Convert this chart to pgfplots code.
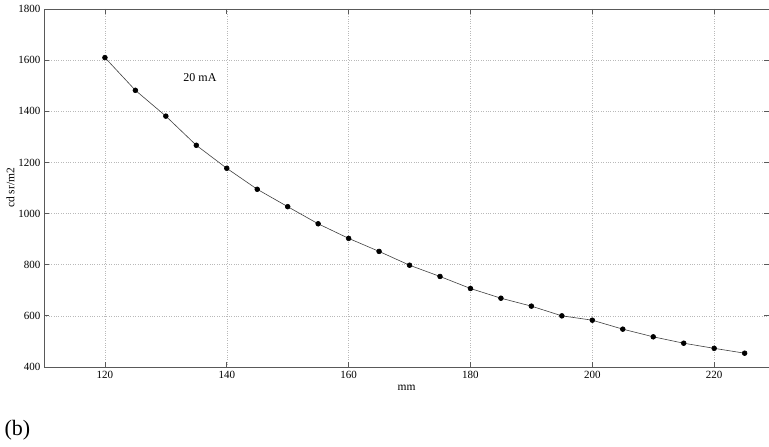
\documentclass[border=0pt]{standalone}
\usepackage{pgfplots}
\pgfplotsset{compat=1.18}
\usepackage{fontspec}
\setmainfont{Liberation Serif}
\begin{document}
\begin{tikzpicture}[x=1pt,y=1pt]
\path[use as bounding box] (0,0) rectangle (769,447);
\begin{axis}[
  at={(44pt,80pt)}, anchor=south west,
  scale only axis, width=725pt, height=358pt,
  xmin=110, xmax=229, ymin=400, ymax=1800,
  xtick={120,140,...,220}, ytick={400,600,...,1800},
  tick align=inside, major tick length=5pt,
  grid=major,
  major grid style={dotted, gray!55, line width=0.5pt},
  axis line style={gray!70!black, line width=0.8pt},
  tick style={gray!70!black, line width=0.8pt},
  tick label style={font=\fontsize{11}{13}\selectfont},
  /pgf/number format/assume math mode=true,
  /pgf/number format/set thousands separator={},
  xlabel={mm}, ylabel={cd sr/m2},
  label style={font=\fontsize{11.5}{13}\selectfont},
  xlabel style={yshift=1pt},
  ylabel style={yshift=-3pt},
  xticklabel style={yshift=-1pt},
  clip=false,
]
\addplot[black!75, line width=0.6pt, mark=*, mark size=2.4pt, mark options={fill=black, draw=black}]
coordinates {
(120,1610) (125,1482) (130,1381) (135,1267) (140,1177) (145,1095)
(150,1027) (155,960) (160,903) (165,852) (170,798) (175,754)
(180,707) (185,669) (190,638) (195,600) (200,583) (205,548)
(210,518) (215,493) (220,473) (225,454)
};
\node[font=\fontsize{12}{14}\selectfont] at (axis cs:135.6,1531) {20 mA};
\end{axis}
\node[anchor=west, font=\fontsize{22}{26}\selectfont] at (1,17) {(b)};
\end{tikzpicture}
\end{document}
